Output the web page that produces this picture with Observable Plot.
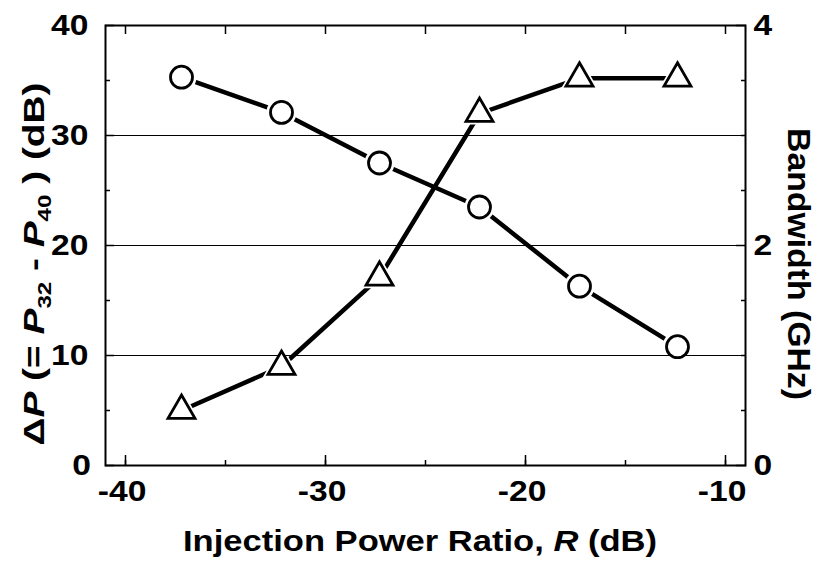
<!DOCTYPE html>
<html><head><meta charset="utf-8">
<script src="https://cdn.jsdelivr.net/npm/d3@7"></script>
<script src="https://cdn.jsdelivr.net/npm/@observablehq/plot@0.6"></script>
<style>
body{margin:0;background:#fff}
svg{font-family:"Liberation Sans",Arial,sans-serif}
</style>
</head><body><div id="chart"></div>
<script>
// Data
const ratio = [-37.2, -32.2, -27.3, -22.3, -17.3, -12.4];          // Injection power ratio R (dB)
const deltaP = [35.3, 32.1, 27.5, 23.5, 16.3, 10.8];               // ΔP (dB), circles, left axis
const bandwidth = [0.50, 0.90, 1.71, 3.20, 3.52, 3.52];            // Bandwidth (GHz), triangles, right axis
const xTickLabels = [-40, -30, -20, -10];
const xMinorTicks = [-40, -35, -30, -25, -20, -15, -10];
const yTickLabels = [0, 10, 20, 30, 40];
const yMinorTicks = [5, 15, 25, 35];
const bwTickLabels = [0, 2, 4];
const bwMinorTicks = [0.5, 1, 1.5, 2.5, 3, 3.5];
const gridValues = [10, 20, 30];
const bwFactor = 10; // 4 GHz on the right axis spans the same height as 40 dB on the left

const circles = ratio.map((r, i) => ({r, v: deltaP[i]}));
const triangles = ratio.map((r, i) => ({r, v: bandwidth[i] * bwFactor}));

const font = {fontSize: 29, fontWeight: "bold", fill: "black"};

const chart = Plot.plot({
  width: 822,
  height: 566,
  marginLeft: 105,
  marginRight: 77,
  marginTop: 25,
  marginBottom: 101,
  x: {domain: [-41, -9]},
  y: {domain: [0, 40]},
  marks: [
    Plot.line(circles, {x: "r", y: "v", stroke: "black", strokeWidth: 4.5}),
    Plot.line(triangles, {x: "r", y: "v", stroke: "black", strokeWidth: 4.5}),
    Plot.dot(circles, {x: "r", y: "v", r: 15, fill: "white", stroke: "none"}),
    Plot.dot(triangles, {x: "r", y: "v", r: 14, symbol: "triangle", fill: "white", stroke: "none"}),
    Plot.ruleY(gridValues, {stroke: "black", strokeWidth: 1.2}),
    Plot.dot(circles, {x: "r", y: "v", r: 11, fill: "white", stroke: "black", strokeWidth: 2.8}),
    Plot.dot(triangles, {x: "r", y: "v", r: 10, symbol: "triangle", fill: "white", stroke: "black", strokeWidth: 2.8}),
    Plot.frame({stroke: "black", strokeWidth: 2}),
    // bottom axis
    Plot.axisX(xTickLabels, {anchor: "bottom", tickSize: -10, tickFormat: () => "", label: null, strokeWidth: 1.5}),
    Plot.axisX(xMinorTicks, {anchor: "bottom", tickSize: -5, tickFormat: () => "", label: null, strokeWidth: 1.5}),
    Plot.axisX(xTickLabels, {anchor: "bottom", tickSize: 0, tickPadding: 15, label: null, tickFormat: d => String(d), ...font}),
    // top axis ticks
    Plot.axisX(xMinorTicks, {anchor: "top", tickSize: -8, tickFormat: () => "", label: null, strokeWidth: 1.5}),
    // left axis
    Plot.axisY(yTickLabels, {anchor: "left", tickSize: -9, tickFormat: () => "", label: null, strokeWidth: 1.5}),
    Plot.axisY(yMinorTicks, {anchor: "left", tickSize: -5, tickFormat: () => "", label: null, strokeWidth: 1.5}),
    Plot.axisY(yTickLabels, {anchor: "left", tickSize: 0, tickPadding: 12, label: null, tickFormat: d => String(d), ...font}),
    // right axis (bandwidth)
    Plot.axisY(bwTickLabels.map(v => v * bwFactor), {anchor: "right", tickSize: -10, tickFormat: () => "", label: null, strokeWidth: 1.5}),
    Plot.axisY(bwMinorTicks.map(v => v * bwFactor), {anchor: "right", tickSize: -5, tickFormat: () => "", label: null, strokeWidth: 1.5}),
    Plot.axisY(bwTickLabels.map(v => v * bwFactor), {anchor: "right", tickSize: 0, tickPadding: 8, label: null, tickFormat: d => String(d / bwFactor), ...font})
  ]
});

document.getElementById("chart").append(chart);

// Widen the tick labels to match the reference's broad bold lettering, keeping their anchor
const stretch = 1.16;
d3.select(chart).selectAll("text").each(function () {
  if (!this.textContent) return;
  const w = this.getComputedTextLength();
  if (!(w > 0)) return;
  const anchor = getComputedStyle(this).textAnchor;
  const extra = w * (stretch - 1);
  this.setAttribute("textLength", (w * stretch).toFixed(1));
  this.setAttribute("lengthAdjust", "spacingAndGlyphs");
  const dx = anchor === "end" ? -extra : anchor === "middle" ? -extra / 2 : 0;
  if (dx !== 0) {
    const t = this.getAttribute("transform") || "";
    this.setAttribute("transform", `translate(${dx.toFixed(2)},0) ${t}`);
  }
});

// Axis titles with italics and subscripts
const svg = d3.select(chart);
const bottom = svg.append("text")
  .attr("x", 420).attr("y", 551)
  .attr("text-anchor", "middle")
  .attr("textLength", 474).attr("lengthAdjust", "spacingAndGlyphs")
  .attr("font-size", 29).attr("font-weight", "bold").attr("fill", "black");
bottom.append("tspan").text("Injection Power Ratio, ");
bottom.append("tspan").attr("font-style", "italic").text("R");
bottom.append("tspan").text(" (dB)");

const left = svg.append("text")
  .attr("transform", "translate(44,264) rotate(-90)")
  .attr("text-anchor", "middle")
  .attr("textLength", 363).attr("lengthAdjust", "spacingAndGlyphs")
  .attr("font-size", 29).attr("font-weight", "bold").attr("fill", "black");
left.append("tspan").text("Δ");
left.append("tspan").attr("font-style", "italic").text("P");
left.append("tspan").text(" (= ");
left.append("tspan").attr("font-style", "italic").text("P");
left.append("tspan").attr("font-size", 18).attr("dy", 7).text("32");
left.append("tspan").attr("dy", -7).text(" - ");
left.append("tspan").attr("font-style", "italic").text("P");
left.append("tspan").attr("font-size", 18).attr("dy", 7).text("40");
left.append("tspan").attr("dy", -7).text(" ) (dB)");

svg.append("text")
  .attr("transform", "translate(788,264) rotate(90)")
  .attr("text-anchor", "middle")
  .attr("textLength", 272).attr("lengthAdjust", "spacingAndGlyphs")
  .attr("font-size", 31).attr("font-weight", "bold").attr("fill", "black")
  .text("Bandwidth (GHz)");
</script>
</body></html>
